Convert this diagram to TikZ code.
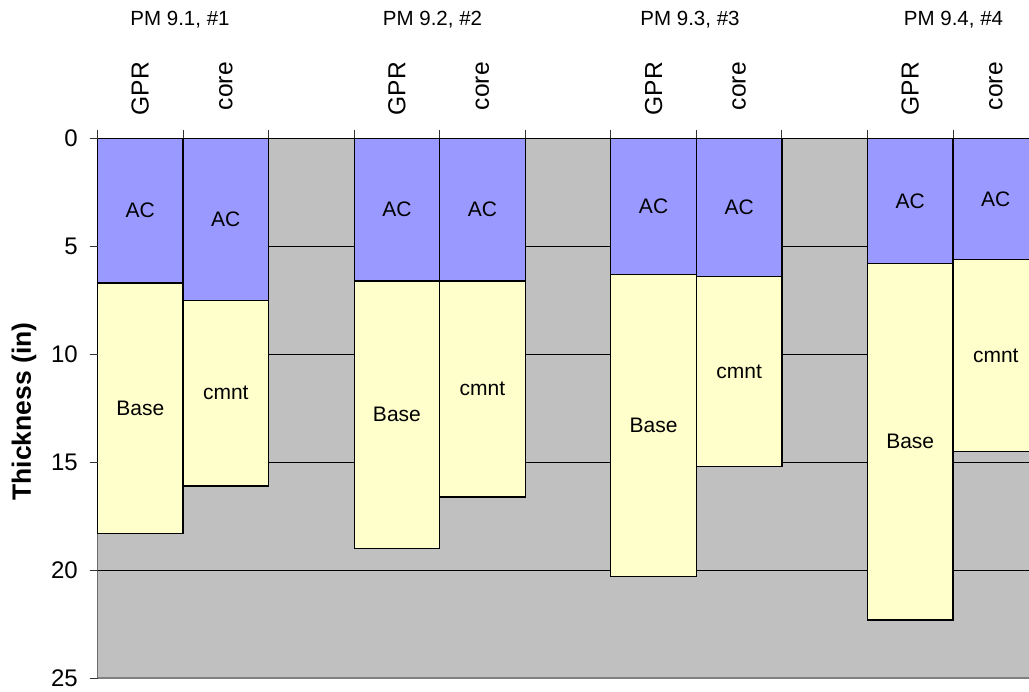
\documentclass[tikz,border=0pt]{standalone}
\usepackage{fontspec}
\setmainfont{Liberation Sans}
\definecolor{acblue}{RGB}{153,153,255}
\definecolor{baseyel}{RGB}{255,255,204}
\definecolor{plotgray}{RGB}{192,192,192}
\definecolor{axgray}{RGB}{110,110,110}
\definecolor{botgray}{RGB}{128,128,128}
\newcommand\segnode[6]{%
  \node[segbox, fill=#2, minimum height={(#4)*21.6pt}, anchor=north west]
    (#1) at ({97.5+#5*85.55},{138.3+(#3)*21.6}) {#6};}
\begin{document}
\begin{tikzpicture}[x=1pt,y=-1pt,
  segbox/.style={draw=black, line width=1.3pt, minimum width=85.55pt,
    inner sep=0pt, outer sep=0pt, font=\fontsize{21}{24}\selectfont},
  ticklab/.style={anchor=east, inner sep=0pt, font=\fontsize{24}{28}\selectfont},
  catlab/.style={anchor=east, rotate=90, inner sep=0pt, font=\fontsize{24.6}{28}\selectfont},
  grouplab/.style={inner sep=0pt, font=\fontsize{20.5}{24}\selectfont},
  gridline/.style={draw=black, line width=0.9pt},
  tickmark/.style={draw=black!80, line width=0.9pt}]
\clip (0,0) rectangle (1029,692);
\fill[white] (0,0) rectangle (1029,692);
% plot area
\fill[plotgray] (97.5,138.3) rectangle (1040,678.3);
\foreach \v in {5,10,15,20} {
  \draw[gridline] (97.5,{138.3+\v*21.6}) -- (1040,{138.3+\v*21.6});
}
\draw[botgray, line width=1.8pt] (97.5,678.3) -- (1040,678.3);
\draw[axgray, line width=1.2pt] (97.5,138.3) -- (97.5,678.3);
% bars
\segnode{g1ac}{acblue}{0}{6.7}{0}{AC}
\segnode{g1bs}{baseyel}{6.7}{11.6}{0}{Base}
\segnode{c1ac}{acblue}{0}{7.5}{1}{AC}
\segnode{c1bs}{baseyel}{7.5}{8.6}{1}{cmnt}
\segnode{g2ac}{acblue}{0}{6.6}{3}{AC}
\segnode{g2bs}{baseyel}{6.6}{12.4}{3}{Base}
\segnode{c2ac}{acblue}{0}{6.6}{4}{AC}
\segnode{c2bs}{baseyel}{6.6}{10.0}{4}{cmnt}
\segnode{g3ac}{acblue}{0}{6.3}{6}{AC}
\segnode{g3bs}{baseyel}{6.3}{14.0}{6}{Base}
\segnode{c3ac}{acblue}{0}{6.4}{7}{AC}
\segnode{c3bs}{baseyel}{6.4}{8.8}{7}{cmnt}
\segnode{g4ac}{acblue}{0}{5.8}{9}{AC}
\segnode{g4bs}{baseyel}{5.8}{16.5}{9}{Base}
\segnode{c4ac}{acblue}{0}{5.6}{10}{AC}
\segnode{c4bs}{baseyel}{5.6}{8.9}{10}{cmnt}
% top axis line and ticks
\draw[black, line width=1pt] (97.5,138.3) -- (1040,138.3);
\foreach \k in {0,...,11} {
  \draw[tickmark] ({97.5+\k*85.55},130) -- ({97.5+\k*85.55},138.3);
}
\foreach \i in {0,...,5} {
  \draw[tickmark] (89.5,{138.3+\i*108}) -- (97.5,{138.3+\i*108});
}
% y tick labels
\node[ticklab] (t0) at (78,138.3) {0};
\node[ticklab] (t5) at (78,246.3) {5};
\node[ticklab] (t10) at (78,354.3) {10};
\node[ticklab] (t15) at (78,462.3) {15};
\node[ticklab] (t20) at (78,570.3) {20};
\node[ticklab] (t25) at (78,678.3) {25};
% axis title
\node[rotate=90, inner sep=0pt, font=\fontsize{26.5}{30}\bfseries] (ytitle) at (24,411.5) {Thickness (in)};
% category labels
\foreach \k/\t/\n in {0/GPR/ca,1/core/cb,3/GPR/cc,4/core/cd,6/GPR/ce,7/core/cf,9/GPR/cg,10/core/ch} {
  \node[catlab] (\n) at ({97.5+(\k+0.5)*85.55},62) {\t};
}
% group labels
\node[grouplab] (pm1) at (180,19.5) {PM 9.1, \#1};
\node[grouplab] (pm2) at (432.5,19.5) {PM 9.2, \#2};
\node[grouplab] (pm3) at (690,19.5) {PM 9.3, \#3};
\node[grouplab] (pm4) at (953.5,19.5) {PM 9.4, \#4};
\end{tikzpicture}
\end{document}
